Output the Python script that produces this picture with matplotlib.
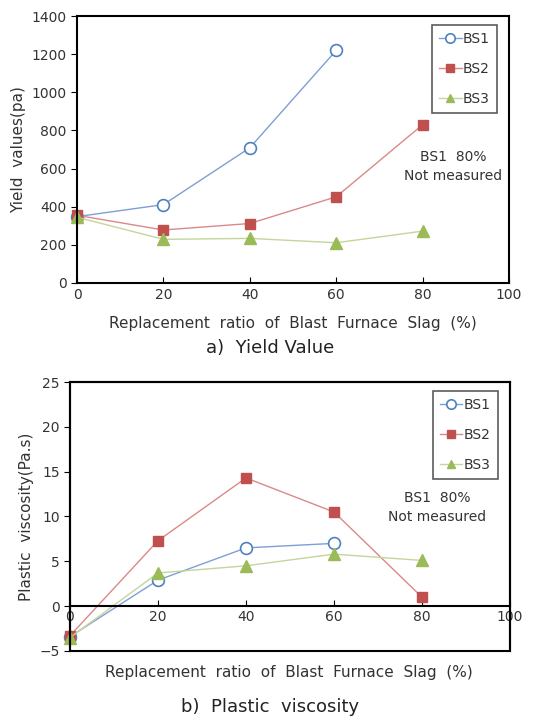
import matplotlib.pyplot as plt
from matplotlib.patches import Rectangle

ratio = [0, 20, 40, 60, 80]

# a) yield value (Pa)
yv_bs1 = [348, 411, 709, 1220]
yv_bs2 = [355, 278, 312, 452, 830]
yv_bs3 = [345, 229, 234, 211, 272]

# b) plastic viscosity (Pa.s)
pv_bs1 = [-3.4, 2.9, 6.5, 7.0]
pv_bs2 = [-3.3, 7.3, 14.3, 10.5, 1.0]
pv_bs3 = [-3.5, 3.7, 4.5, 5.8, 5.1]

series_names = ["BS1", "BS2", "BS3"]

plt.rcParams['font.family'] = ['DejaVu Sans']
txt = '#333333'

fig = plt.figure(figsize=(5.4, 7.19), dpi=100)
ax1 = fig.add_axes([0.1426, 0.6064, 0.80, 0.3713])
ax2 = fig.add_axes([0.1296, 0.0946, 0.8148, 0.3741])


def draw(ax, s1, s2, s3):
    ax.plot(ratio[:len(s1)], s1, color='#7f9fd3', lw=1, marker='o', ms=8.5,
            mfc='white', mec='#4f81bd', mew=1.2, label=series_names[0], clip_on=False)
    ax.plot(ratio, s2, color='#d98a88', lw=1, marker='s', ms=7.5,
            mfc='#c0504d', mec='#c0504d', label=series_names[1], clip_on=False)
    ax.plot(ratio, s3, color='#c3d69b', lw=1, marker='^', ms=8,
            mfc='#9bbb59', mec='#9bbb59', label=series_names[2], clip_on=False)
    ax.set_xlim(0, 100)
    ax.set_xticks([0, 20, 40, 60, 80, 100])
    ax.tick_params(labelsize=10, labelcolor=txt, length=4)
    for sp in ax.spines.values():
        sp.set_linewidth(1.5)
    leg = ax.legend(loc='upper right', bbox_to_anchor=(0.972, 0.966), fontsize=10,
                    frameon=True, fancybox=False, edgecolor='#333333',
                    labelspacing=1.15, handlelength=1.6, handletextpad=0.1,
                    borderpad=0.5, borderaxespad=0, markerscale=0.8)
    leg.get_frame().set_linewidth(1.2)
    for t in leg.get_texts():
        t.set_color(txt)


draw(ax1, yv_bs1, yv_bs2, yv_bs3)
ax1.set_ylim(0, 1400)
ax1.set_yticks(range(0, 1401, 200))
ax1.tick_params(axis='y', direction='out')
ax1.tick_params(axis='x', direction='in')
ax1.set_ylabel("Yield  values(pa)", fontsize=11, color=txt, labelpad=4)
ax1.set_xlabel("Replacement  ratio  of  Blast  Furnace  Slag  (%)", fontsize=11,
               color=txt, labelpad=10)
ax1.text(87, 610, "BS1  80%\nNot measured", ha='center', va='center',
         fontsize=10, color=txt, linespacing=1.4)
fig.text(0.5, 0.516, "a)  Yield Value", ha='center', va='center', fontsize=13,
         color='#222222')

draw(ax2, pv_bs1, pv_bs2, pv_bs3)
ax2.set_ylim(-5, 25)
ax2.set_yticks(range(-5, 26, 5))
ax2.spines['bottom'].set_position(('data', 0))
ax2.spines['bottom'].set_linewidth(1.5)
ax2.add_patch(Rectangle((0, 0), 1, 1, transform=ax2.transAxes, fill=False,
                        lw=1.5, edgecolor='black', clip_on=False, zorder=5))
ax2.tick_params(axis='y', direction='out')
ax2.tick_params(axis='x', direction='in', pad=3)
ax2.set_ylabel("Plastic  viscosity(Pa.s)", fontsize=11, color=txt, labelpad=4)
fig.text(0.535, 0.065, "Replacement  ratio  of  Blast  Furnace  Slag  (%)",
         ha='center', va='center', fontsize=11, color=txt)
ax2.text(83.5, 11, "BS1  80%\nNot measured", ha='center', va='center',
         fontsize=10, color=txt, linespacing=1.4)
fig.text(0.5, 0.017, "b)  Plastic  viscosity", ha='center', va='center',
         fontsize=13, color='#222222')

fig.savefig("out.png", dpi=100)
